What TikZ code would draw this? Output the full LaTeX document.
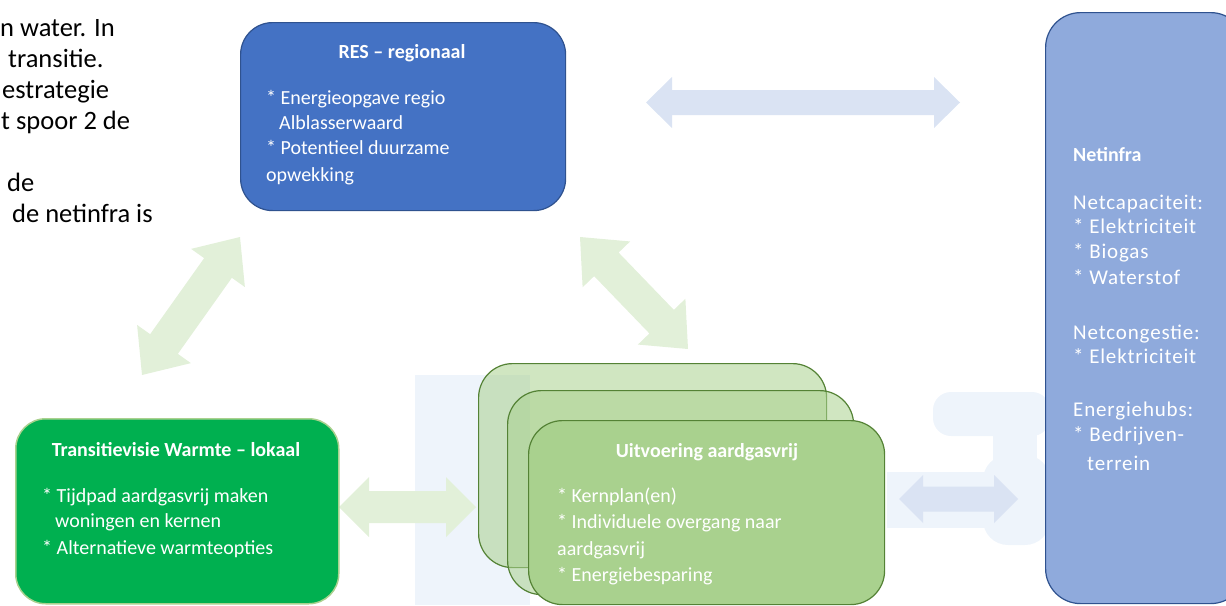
\documentclass[tikz,border=0pt]{standalone}
\usepackage{fontspec}
\setmainfont{Carlito}
\usetikzlibrary{calc}
\definecolor{resblue}{HTML}{4472C4}
\definecolor{resborder}{HTML}{2F528F}
\definecolor{netblue}{HTML}{8FAADC}
\definecolor{wgreen}{HTML}{00B050}
\definecolor{wborder}{HTML}{A9D18E}
\definecolor{ugreen}{HTML}{A9D18E}
\definecolor{uborder}{HTML}{548235}
\definecolor{agreen}{HTML}{E2F0D9}
\definecolor{ablue}{HTML}{DAE3F3}
\definecolor{faint}{HTML}{EEF4FB}
% block double arrow between two named coordinates:
% #1 from, #2 to, #3 shaft half width, #4 head half width, #5 head length, #6 colour
\newcommand\blockarrow[6]{%
  \fill[#6] let \p1=(#1), \p2=(#2), \n1={atan2(\y2-\y1,\x2-\x1)}, \n2={veclen(\x2-\x1,\y2-\y1)} in
    [shift={(\p1)}, rotate=\n1, x=1pt, y=1pt]
    (0,0) -- (#5,#4) -- (#5,#3) -- ({\n2-#5},#3) -- ({\n2-#5},#4) -- ({\n2},0)
    -- ({\n2-#5},-#4) -- ({\n2-#5},-#3) -- (#5,-#3) -- (#5,-#4) -- cycle;
}
\tikzset{
  box/.style={rounded corners=#1, inner sep=0pt, anchor=north west},
  resbox/.style={box=32pt, draw=resborder, fill=resblue, line width=1.2pt},
  netbox/.style={box=35pt, draw=resborder, fill=netblue, line width=1.2pt},
  wbox/.style={box=30pt, draw=wborder, fill=wgreen, line width=1.5pt},
  ubox/.style={box=34pt, draw=uborder, fill=ugreen, line width=1.2pt},
  ttl/.style={font=\fontsize{20}{24}\selectfont\bfseries, text=white, anchor=base, inner sep=0pt},
  bod/.style={font=\fontsize{20}{24}\selectfont, text=white, anchor=base west, inner sep=0pt},
  nbod/.style={font=\fontsize{21}{25}\selectfont\addfontfeature{LetterSpace=4}, text=white, anchor=base west, inner sep=0pt},
  lft/.style={font=\fontsize{26.5}{31}\selectfont, text=black, anchor=base west, inner sep=0pt},
}
\begin{document}
\begin{tikzpicture}[x=1pt, y=-1pt]
\useasboundingbox (0,0) rectangle (1226,605);
\clip (0,0) rectangle (1226,605);

% faint background decoration
\fill[faint] (415,375) rectangle (530,605);
\fill[faint, rounded corners=18pt] (933,392) rectangle (1050,436);
\fill[faint] (993,430) rectangle (1037,460);
\fill[faint, rounded corners=25pt] (983,455) rectangle (1050,545);
\fill[faint] (887,472) rectangle (1050,528);

% left clipped paragraph text
\node[lft] (p1) at (0,36) {n water. In};
\node[lft] (p2) at (8,67) {transitie.};
\node[lft] (p3) at (2,98) {estrategie};
\node[lft] (p4) at (1,129) {t spoor 2 de};
\node[lft] (p5) at (7,191) {de};
\node[lft] (p6) at (12,222) {de netinfra is};

% arrows
\coordinate (t1) at (646,102.5);
\coordinate (t2) at (960,102.5);
\coordinate (l1) at (142,375);
\coordinate (l2) at (240,237);
\coordinate (r1) at (580,237);
\coordinate (r2) at (688,349);
\coordinate (g1) at (339,507);
\coordinate (g2) at (476,507);
\coordinate (b1) at (899,499);
\coordinate (b2) at (1018,499);
\blockarrow{t1}{t2}{12.5}{25.5}{26}{ablue}
\blockarrow{l1}{l2}{17}{33}{38}{agreen}
\blockarrow{r1}{r2}{17}{33}{38}{agreen}
\blockarrow{g1}{g2}{16}{30}{30}{agreen}
\blockarrow{b1}{b2}{12.5}{24}{24}{ablue}

% RES box
\node[resbox, minimum width=325pt, minimum height=188pt] (res) at (240,22) {};
\node[ttl] (restitle) at (402,58) {RES – regionaal};
\node[bod] (res1) at (266,104) {* Energieopgave regio};
\node[bod] (res2) at (279,129) {Alblasserwaard};
\node[bod] (res3) at (266,154) {* Potentieel duurzame};
\node[bod] (res4) at (266,181) {opwekking};

% Netinfra box
\node[netbox, minimum width=200pt, minimum height=591pt] (net) at (1045,12) {};
\node[ttl, anchor=base west] (nettitle) at (1073,161) {Netinfra};
\node[nbod] (net1) at (1073,209) {Netcapaciteit:};
\node[nbod] (net2) at (1073,233) {* Elektriciteit};
\node[nbod] (net3) at (1073,258) {* Biogas};
\node[nbod] (net4) at (1073,284) {* Waterstof};
\node[nbod] (net5) at (1073,339) {Netcongestie:};
\node[nbod] (net6) at (1073,363) {* Elektriciteit};
\node[nbod] (net7) at (1073,416) {Energiehubs:};
\node[nbod] (net8) at (1073,441) {* Bedrijven-};
\node[nbod] (net9) at (1087,470) {terrein};

% Transitievisie box
\node[wbox, minimum width=323pt, minimum height=185pt] (tv) at (15,418) {};
\node[ttl] (tvtitle) at (176,456) {Transitievisie Warmte – lokaal};
\node[bod] (tv1) at (42,502) {* Tijdpad aardgasvrij maken};
\node[bod] (tv2) at (55,527) {woningen en kernen};
\node[bod] (tv3) at (42,554) {* Alternatieve warmteopties};

% Uitvoering stacked boxes
\node[ubox, fill opacity=0.55, minimum width=348pt, minimum height=204pt] (u1) at (478,363) {};
\node[ubox, fill opacity=0.55, minimum width=346pt, minimum height=204pt] (u2) at (507,390) {};
\node[ubox, minimum width=356pt, minimum height=184pt] (u3) at (528,420) {};
\node[ttl] (utitle) at (707,457) {Uitvoering aardgasvrij};
\node[bod] (u3a) at (557,502) {* Kernplan(en)};
\node[bod] (u3b) at (557,528) {* Individuele overgang naar};
\node[bod] (u3c) at (557,555) {aardgasvrij};
\node[bod] (u3d) at (557,581) {* Energiebesparing};
\end{tikzpicture}
\end{document}
